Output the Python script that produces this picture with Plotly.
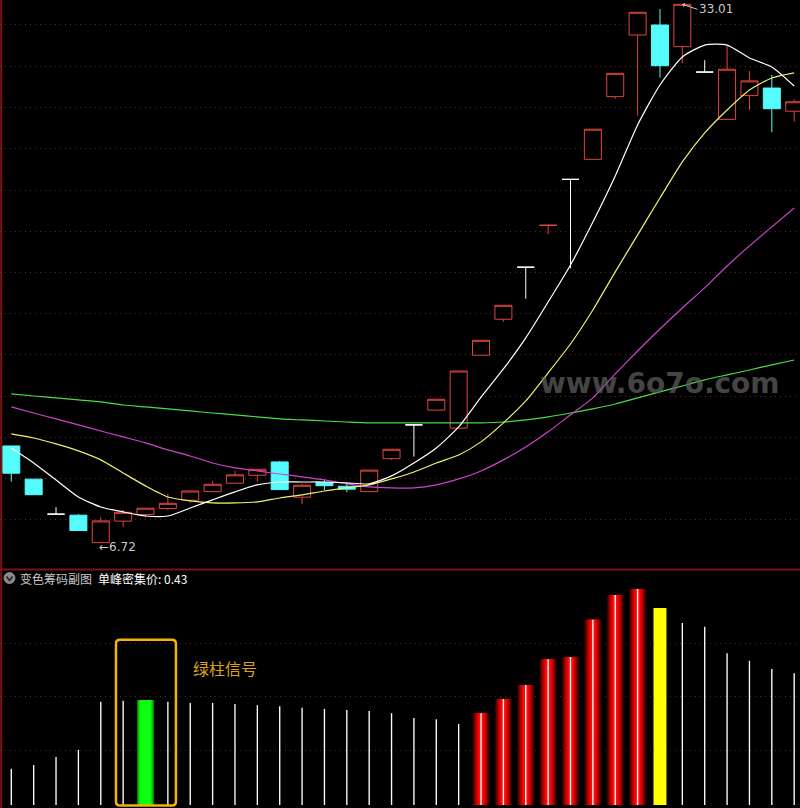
import plotly.graph_objects as go

# ---------------- data ----------------
day = list(range(36))

opens  = [11.44, 9.82, 8.11, 8.06, 6.72, 7.77, 8.09, 8.38, 8.79, 9.21, 9.62, 10.01,
          10.66, 8.94, 9.65, 9.47, 9.21, 10.82, 12.47, 13.19, 12.31, 15.87, 17.63, 20.17,
          22.21, 24.46, 25.44, 28.50, 31.51, 32.00, 30.94, 29.70, 27.39, 28.55, 28.92, 27.79]
highs  = [11.44, 9.82, 8.45, 8.11, 7.96, 8.32, 8.40, 9.10, 9.24, 9.73, 10.22, 10.30,
          10.71, 9.60, 9.77, 9.62, 10.26, 11.28, 12.47, 13.72, 15.10, 16.60, 18.31, 20.17,
          22.22, 24.46, 26.91, 29.64, 32.62, 32.78, 33.01, 30.28, 31.02, 29.75, 29.56, 28.37]
lows   = [9.70, 9.06, 8.11, 7.31, 6.72, 7.47, 7.96, 8.32, 8.67, 9.21, 9.62, 9.70,
          9.31, 8.60, 9.29, 9.18, 9.21, 10.76, 10.92, 13.19, 12.31, 15.87, 17.51, 18.63,
          21.78, 20.12, 25.44, 28.40, 27.57, 29.43, 30.13, 29.70, 27.39, 27.86, 26.76, 27.28]
closes = [10.11, 9.06, 8.11, 7.31, 7.78, 8.20, 8.40, 8.64, 9.24, 9.57, 10.03, 10.30,
          9.31, 9.52, 9.50, 9.33, 10.26, 11.28, 12.47, 13.72, 15.10, 16.60, 18.31, 20.17,
          22.22, 24.46, 26.91, 29.64, 32.62, 30.01, 33.01, 29.70, 29.84, 29.27, 27.91, 28.25]

ma5  = [11.34, 10.61, 9.78, 8.95, 8.46, 8.22, 8.02, 8.02, 8.41, 8.81, 9.20, 9.54,
        9.68, 9.68, 9.68, 9.64, 9.59, 9.98, 10.61, 11.34, 12.37, 13.83, 15.20, 16.72,
        18.47, 20.28, 22.38, 24.63, 27.12, 29.07, 30.44, 31.02, 31.02, 30.39, 29.95, 29.02]
ma10 = [12.03, 11.83, 11.54, 11.20, 10.76, 10.12, 9.49, 8.95, 8.76, 8.66, 8.66, 8.71,
        8.90, 9.05, 9.24, 9.39, 9.54, 9.83, 10.17, 10.61, 11.00, 11.64, 12.57, 13.64,
        15.01, 16.42, 18.08, 19.94, 21.75, 23.55, 25.31, 26.73, 27.85, 28.83, 29.41, 29.66]
ma20 = [13.35, 13.05, 12.76, 12.47, 12.17, 11.88, 11.59, 11.25, 10.95, 10.61, 10.37, 10.22,
        10.07, 9.93, 9.78, 9.59, 9.44, 9.39, 9.39, 9.54, 9.83, 10.22, 10.76, 11.39,
        12.13, 12.96, 13.79, 14.96, 16.08, 17.15, 18.18, 19.16, 20.23, 21.21, 22.14, 23.06]
ma60 = [13.98, 13.88, 13.79, 13.69, 13.59, 13.44, 13.35, 13.25, 13.15, 13.05, 12.96, 12.86,
        12.76, 12.71, 12.66, 12.61, 12.57, 12.57, 12.57, 12.57, 12.57, 12.57, 12.61, 12.71,
        12.86, 13.05, 13.25, 13.49, 13.79, 14.08, 14.37, 14.67, 14.91, 15.15, 15.40, 15.64]

price_grid = [32.00, 29.99, 27.97, 25.96, 23.94, 21.93, 19.92, 17.90, 15.89, 13.87, 11.86, 9.85, 7.83]

chip = [0.67, 0.74, 0.89, 1.02, 1.91, 1.93, 1.94, 1.91, 1.89, 1.89, 1.87, 1.85,
        1.83, 1.80, 1.78, 1.76, 1.74, 1.70, 1.61, 1.59, 1.50, 1.70, 1.96, 2.22,
        2.70, 2.74, 3.43, 3.89, 4.00, 3.65, 3.37, 3.30, 2.81, 2.67, 2.52, 2.44]
chip_grid = [1, 2, 3]
red_days = [21, 22, 23, 24, 25, 26, 27, 28]
green_days = [6]
yellow_days = [29]

low_label = "6.72"
high_label = "33.01"
panel_name = "变色筹码副图"
panel_value = "单峰密集价: 0.43"
signal_text = "绿柱信号"
watermark = "www.6o7o.com"

# ---------------- figure ----------------
RED = "#e0463f"
CYAN = "#54fcfc"
GRID = "#6e1e1e"

fig = go.Figure()

def subset(cond):
    ii = [i for i in day if cond(i)]
    return (ii, [opens[i] for i in ii], [highs[i] for i in ii],
            [lows[i] for i in ii], [closes[i] for i in ii])

groups = [
    (lambda i: closes[i] > opens[i], RED, "#000000"),
    (lambda i: closes[i] < opens[i], CYAN, CYAN),
    (lambda i: closes[i] == opens[i], "#ffffff", "#ffffff"),
]
for cond, lc, fc in groups:
    xs, o, h, l, c = subset(cond)
    fig.add_trace(go.Candlestick(
        x=xs, open=o, high=h, low=l, close=c,
        increasing=dict(line=dict(color=lc, width=1), fillcolor=fc),
        decreasing=dict(line=dict(color=lc, width=1), fillcolor=fc),
        whiskerwidth=0, hoverinfo="skip", showlegend=False,
        xaxis="x", yaxis="y"))

for vals, col in [(ma60, "#48dc48"), (ma20, "#cc44cc"), (ma10, "#f0f070"), (ma5, "#ffffff")]:
    fig.add_trace(go.Scatter(x=day, y=vals, mode="lines",
                             line=dict(color=col, width=1.2, shape="spline", smoothing=0.6),
                             hoverinfo="skip", showlegend=False,
                             xaxis="x", yaxis="y"))

# sub panel bars (layered to imitate the shaded columns)
red_layers = [(0.78, "#1e0000"), (0.72, "#3c0000"), (0.66, "#5a0000"), (0.60, "#780000"),
              (0.54, "#960000"), (0.48, "#b00000"), (0.42, "#c80000"), (0.36, "#dc0000"),
              (0.30, "#ec0404"), (0.22, "#f80c0c")]
for w, col in red_layers:
    fig.add_trace(go.Bar(x=red_days, y=[chip[i] for i in red_days], width=w,
                         marker=dict(color=col, line=dict(width=0)),
                         hoverinfo="skip", showlegend=False, xaxis="x2", yaxis="y2"))
green_layers = [(0.76, "#007a00"), (0.70, "#00a800"), (0.64, "#00d000"), (0.56, "#00f000"),
                (0.46, "#10ff10")]
for w, col in green_layers:
    fig.add_trace(go.Bar(x=green_days, y=[chip[i] for i in green_days], width=w,
                         marker=dict(color=col, line=dict(width=0)),
                         hoverinfo="skip", showlegend=False, xaxis="x2", yaxis="y2"))
fig.add_trace(go.Bar(x=yellow_days, y=[chip[i] for i in yellow_days], width=0.58,
                     marker=dict(color="#ffff00", line=dict(width=0)),
                     hoverinfo="skip", showlegend=False, xaxis="x2", yaxis="y2"))
white_days = [i for i in day if i not in green_days and i not in yellow_days]
fig.add_trace(go.Bar(x=white_days, y=[chip[i] for i in white_days], width=0.06,
                     marker=dict(color="#ffffff", line=dict(width=0)),
                     hoverinfo="skip", showlegend=False, xaxis="x2", yaxis="y2"))

XR = [-0.505, 35.26]
fig.update_layout(
    width=800, height=808,
    margin=dict(l=0, r=0, t=0, b=0),
    paper_bgcolor="#000000", plot_bgcolor="#000000",
    barmode="overlay", boxmode="overlay", boxgap=0.24, boxgroupgap=0,
    showlegend=False,
    xaxis=dict(domain=[0, 1], range=XR, showgrid=False, zeroline=False,
               showticklabels=False, ticks="", rangeslider=dict(visible=False),
               anchor="y", fixedrange=True),
    yaxis=dict(domain=[1 - 568 / 808, 1], range=[5.48, 33.22], tickmode="array",
               tickvals=price_grid, showticklabels=False, ticks="",
               showgrid=True, gridcolor=GRID, gridwidth=1, griddash="1px,4px",
               zeroline=False, anchor="x"),
    xaxis2=dict(domain=[0, 1], range=XR, showgrid=False, zeroline=False,
                showticklabels=False, ticks="", anchor="y2"),
    yaxis2=dict(domain=[0, 238 / 808], range=[-0.056, 4.352], tickmode="array",
                tickvals=chip_grid, showticklabels=False, ticks="",
                showgrid=True, gridcolor=GRID, gridwidth=1, griddash="1px,4px",
                zeroline=False, anchor="x2"),
)

# rounded frame around the green signal column (data units of the sub panel)
bx0, bx1, by0, by1 = 4.68, 7.36, -0.01, 3.06
rx, ry = 0.18, 0.075
frame_path = ("M {a},{b} L {c},{b} Q {x1},{b} {x1},{d} L {x1},{e} Q {x1},{y1} {c},{y1} "
              "L {a},{y1} Q {x0},{y1} {x0},{e} L {x0},{d} Q {x0},{b} {a},{b} Z").format(
    a=bx0 + rx, c=bx1 - rx, b=by0, d=by0 + ry, e=by1 - ry, x0=bx0, x1=bx1, y1=by1)

shapes = [
    dict(type="line", xref="paper", yref="paper", x0=0.0015, x1=0.0015, y0=0, y1=1,
         line=dict(color="#7a1515", width=2)),
    dict(type="line", xref="paper", yref="paper", x0=0, x1=1,
         y0=1 - 569.5 / 808, y1=1 - 569.5 / 808, line=dict(color="#7a1515", width=2)),
    dict(type="path", xref="x2", yref="y2", path=frame_path,
         line=dict(color="#f2b400", width=2.5)),
    dict(type="circle", xref="paper", yref="paper", x0=4 / 800, x1=15 / 800,
         y0=1 - 583.5 / 808, y1=1 - 572.5 / 808, fillcolor="#8a8a8a",
         line=dict(color="#8a8a8a", width=1)),
    dict(type="path", xref="paper", yref="paper",
         path="M %f,%f L %f,%f L %f,%f" % (6.5 / 800, 1 - 576.5 / 808, 9.5 / 800,
                                           1 - 580.5 / 808, 12.5 / 800, 1 - 576.5 / 808),
         line=dict(color="#202020", width=1.5)),
]
fig.update_layout(shapes=shapes)

annos = [
    dict(xref="x", yref="y", x=4, y=6.72, text="←" + low_label, showarrow=False,
         xanchor="left", yanchor="middle", xshift=-4, yshift=-4,
         font=dict(family="DejaVu Sans", size=12, color="#c8c8c8")),
    dict(xref="x", yref="y", x=30, y=33.01, text=high_label, showarrow=True,
         ax=15, ay=5, xanchor="left", yanchor="middle", arrowhead=1, arrowsize=0.8,
         arrowwidth=1, arrowcolor="#c8c8c8", standoff=0,
         font=dict(family="DejaVu Sans", size=12, color="#c8c8c8")),
    dict(xref="paper", yref="paper", x=18 / 800, y=1 - 578 / 808, text=panel_name,
         showarrow=False, xanchor="left", yanchor="middle",
         font=dict(family="Noto Sans CJK SC", size=12, color="#c8c8c8")),
    dict(xref="paper", yref="paper", x=96 / 800, y=1 - 578 / 808, text=panel_value,
         showarrow=False, xanchor="left", yanchor="middle",
         font=dict(family="Noto Sans CJK SC", size=12, color="#ffffff")),
    dict(xref="x2", yref="y2", x=9.55, y=2.54, text=signal_text, showarrow=False,
         xanchor="center", yanchor="middle",
         font=dict(family="Noto Sans CJK SC", size=16, color="#dca21c")),
    dict(xref="paper", yref="paper", x=660 / 800, y=1 - 383 / 808, text="<b>" + watermark + "</b>",
         showarrow=False, xanchor="center", yanchor="middle",
         font=dict(family="DejaVu Sans", size=28, color="rgba(100,100,100,0.7)")),
]
fig.update_layout(annotations=annos)

fig.write_html("out.html", config={"displayModeBar": False, "staticPlot": True},
               post_script="document.body.style.margin='0';")
